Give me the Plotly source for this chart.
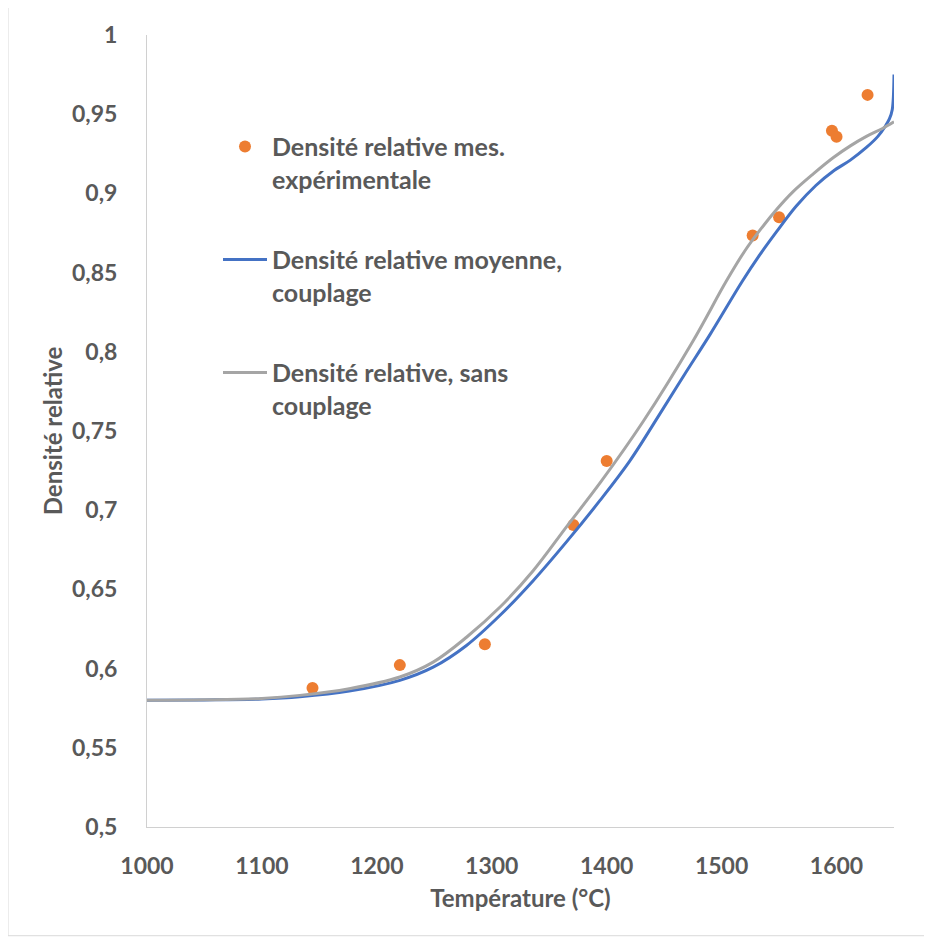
import plotly.graph_objects as go

# Experimental points
exp_T = [1144, 1220, 1294, 1371, 1400, 1527, 1550, 1596, 1600, 1627]
exp_d = [0.5877, 0.6022, 0.6154, 0.6906, 0.7311, 0.8734, 0.8850, 0.9395, 0.9358, 0.9622]

# Mean relative density, with coupling (blue)
cpl_T = [1000, 1050, 1100, 1133, 1176, 1220, 1249, 1278, 1307, 1336, 1365, 1394, 1420,
         1446, 1468, 1490, 1518, 1533, 1548, 1565, 1582, 1597, 1612, 1626, 1636, 1642,
         1646, 1648.5, 1650]
cpl_d = [0.5800, 0.5802, 0.5808, 0.5822, 0.5858, 0.5926, 0.6009, 0.6146, 0.6335, 0.6555,
         0.6800, 0.7060, 0.7310, 0.7605, 0.7860, 0.8110, 0.8445, 0.8610, 0.8760, 0.8920,
         0.9050, 0.9140, 0.9210, 0.9290, 0.9360, 0.9420, 0.9470, 0.9530, 0.9750]

# Relative density without coupling (grey)
sans_T = [1000, 1050, 1100, 1133, 1176, 1220, 1249, 1278, 1307, 1336, 1365, 1395, 1432,
          1475, 1504, 1520, 1533, 1548, 1562, 1580, 1597, 1612, 1626, 1640, 1650]
sans_d = [0.5800, 0.5803, 0.5812, 0.5831, 0.5873, 0.5947, 0.6041, 0.6198, 0.6387, 0.6618,
          0.6895, 0.7180, 0.7563, 0.8067, 0.8445, 0.8635, 0.8765, 0.8900, 0.9010, 0.9125,
          0.9225, 0.9300, 0.9360, 0.9410, 0.9452]

y_ticks = [0.5, 0.55, 0.6, 0.65, 0.7, 0.75, 0.8, 0.85, 0.9, 0.95, 1.0]
y_ticktext = ["0,5", "0,55", "0,6", "0,65", "0,7", "0,75", "0,8", "0,85", "0,9", "0,95", "1"]
x_ticks = [1000, 1100, 1200, 1300, 1400, 1500, 1600]
x_ticktext = ["1000", "1100", "1200", "1300", "1400", "1500", "1600"]

TXT = "#595959"
FONT = "Lato"

fig = go.Figure()
fig.add_trace(go.Scatter(
    x=exp_T, y=exp_d, mode="markers",
    marker=dict(color="#ED7D31", size=12),
    name="Densité relative mes.<br>expérimentale", legendgroup="a"))
fig.add_trace(go.Scatter(
    x=cpl_T, y=cpl_d, mode="lines",
    line=dict(color="#4472C4", width=3, shape="spline", smoothing=1.0),
    name="Densité relative moyenne,<br>couplage", legendgroup="b"))
fig.add_trace(go.Scatter(
    x=sans_T, y=sans_d, mode="lines",
    line=dict(color="#A5A5A5", width=3, shape="spline", smoothing=1.0),
    name="Densité relative, sans<br>couplage", legendgroup="c"))

# page body has an 8px margin: compensate so the plot area lands at
# x 147..894 and y 33..827 of the window
OFF = 8
W, H = 932 - OFF, 938 - OFF
L, R, T, B = 147 - OFF, 38, 33 - OFF, 111
pw, ph = W - L - R, H - T - B

def px2paper_x(px):
    return (px - OFF - L) / pw

def px2paper_y(py):
    return (H - B - (py - OFF)) / ph

fig.update_layout(
    width=W, height=H,
    margin=dict(l=L, r=R, t=T, b=B, pad=0),
    paper_bgcolor="white", plot_bgcolor="white",
    font=dict(family=FONT, color=TXT, size=22, weight="bold"),
    showlegend=True,
    legend=dict(
        x=px2paper_x(218), y=px2paper_y(122), xanchor="left", yanchor="top",
        font=dict(family=FONT, size=25, color=TXT, weight="bold"),
        itemwidth=44, valign="top", tracegroupgap=45,
        bgcolor="rgba(0,0,0,0)", traceorder="grouped",
    ),
    xaxis=dict(
        range=[1000, 1650], tickvals=x_ticks, ticktext=x_ticktext,
        showgrid=False, zeroline=False, showline=True, linecolor="#D0D0D0", linewidth=1,
        ticks="", ticklabelstandoff=18,
        tickfont=dict(family=FONT, size=23, color=TXT, weight="bold"),
        title=dict(text="Température (°C)", standoff=12,
                   font=dict(family=FONT, size=24, color=TXT, weight="bold")),
    ),
    yaxis=dict(
        range=[0.5, 1.0], tickvals=y_ticks, ticktext=y_ticktext,
        showgrid=False, zeroline=False, showline=True, linecolor="#D0D0D0", linewidth=1,
        ticks="", ticklabelstandoff=24,
        tickfont=dict(family=FONT, size=23, color=TXT, weight="bold"),
        title=dict(text="Densité relative", standoff=2,
                   font=dict(family=FONT, size=24, color=TXT, weight="bold")),
    ),
    shapes=[dict(type="rect", xref="paper", yref="paper",
                 x0=px2paper_x(8), x1=px2paper_x(929),
                 y0=px2paper_y(936), y1=px2paper_y(5),
                 line=dict(color="#D9D9D9", width=1), layer="below")],
)

fig.write_html("out.html")
